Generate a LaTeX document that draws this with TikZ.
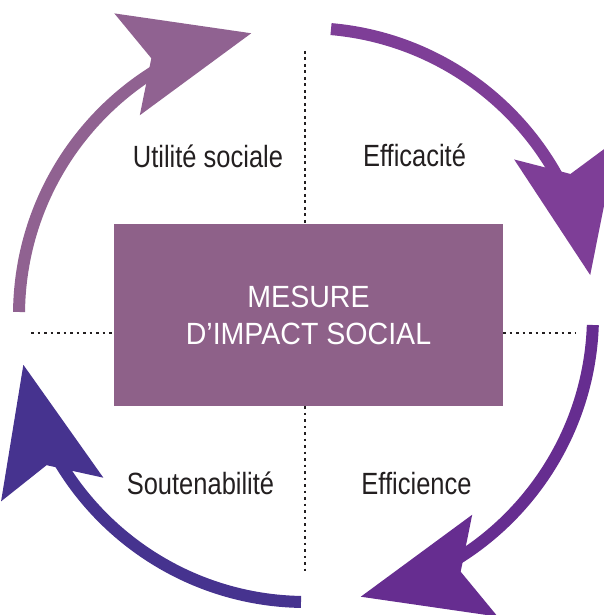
\documentclass[tikz,border=0pt]{standalone}
\usepackage{fontspec}
\setmainfont{Liberation Sans}[FakeStretch=0.83]
\newfontfamily\boxfont{Liberation Sans}[FakeStretch=0.93]
\usetikzlibrary{arrows.meta,bending}

\definecolor{colutil}{HTML}{906291}
\definecolor{colefficac}{HTML}{7E3E97}
\definecolor{colefficien}{HTML}{662D90}
\definecolor{colsouten}{HTML}{46338F}
\definecolor{colbox}{HTML}{8E6189}
\definecolor{ink}{HTML}{231F20}

\begin{document}
\begin{tikzpicture}[
  x = 1pt, y = 1pt,
  cyclearrow/.style={line width=12pt, -{Stealth[length=128pt, width=105pt, inset=25pt, line width=0pt, flex=0.3]}},
  quadrant/.style={ink, line width=2.7pt, dash pattern=on 2.7pt off 3.8pt},
  quadlabel/.style={anchor=base, text=ink, font=\fontsize{30.7}{37}\selectfont},
  mainbox/.style={fill=colbox, text=white, minimum width=389pt, minimum height=182pt, inner sep=0pt, font=\boxfont\fontsize{30.7}{37}\selectfont},
  every text node part/.style={align=center}
]
%general params
\def\rad{287pt} %cycle radius
\useasboundingbox (0,0) rectangle (604,615);

%centre
\coordinate (O) at (306,300);
\node[mainbox] (impact) at (308.5,300) {MESURE\\D’IMPACT SOCIAL};

%quadrants
\coordinate (vtop) at (305,564);
\coordinate (vbot) at (305,40);
\coordinate (hleft) at (31,282);
\coordinate (hright) at (575,282);
\draw[quadrant] (vtop) -- (vtop |- impact.north);
\draw[quadrant] (impact.south -| vbot) -- (vbot);
\draw[quadrant] (hleft) -- (hleft -| impact.west);
\draw[quadrant] (impact.east |- hright) -- (hright);

%labels
\node[quadlabel] (utilite)    at (208,447)   {Utilité sociale};
\node[quadlabel] (efficacite) at (414.5,448) {Efficacité};
\node[quadlabel] (efficience) at (416.5,120) {Efficience};
\node[quadlabel] (soutenab)   at (200.5,120) {Soutenabilité};

%cycle
\draw[cyclearrow, colutil]     (O) ++(179.4:\rad) arc[start angle=179.4, end angle=101, radius=\rad];
\draw[cyclearrow, colefficac]  (O) ++(85:\rad)    arc[start angle=85,    end angle=8,   radius=\rad];
\draw[cyclearrow, colefficien] (O) ++(-2:\rad)    arc[start angle=-2,    end angle=-79, radius=\rad];
\draw[cyclearrow, colsouten]   (O) ++(269:\rad)   arc[start angle=269,   end angle=190, radius=\rad];

\end{tikzpicture}
\end{document}
